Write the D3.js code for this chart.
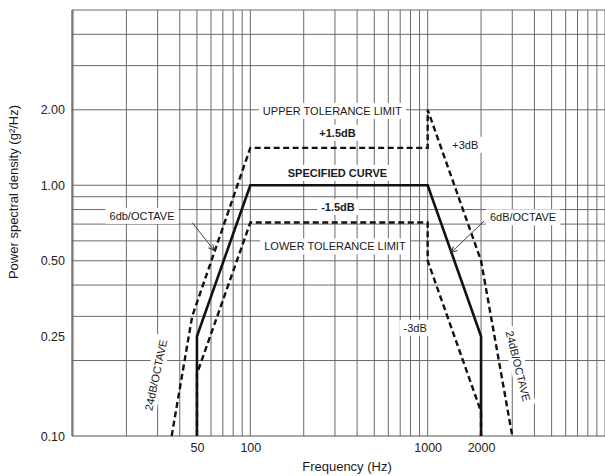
<!DOCTYPE html>
<html>
<head>
<meta charset="utf-8">
<script src="https://cdn.jsdelivr.net/npm/d3@7/dist/d3.min.js"></script>
<style>
  html, body { margin: 0; padding: 0; background: #fff; }
  svg { display: block; font-family: "Liberation Sans", Arial, Helvetica, sans-serif; }
</style>
</head>
<body>
<svg id="chart" width="605" height="476"></svg>
<script>
// ---- data ----
const specifiedFreq = [50, 50, 100, 1000, 2000, 2000];
const specifiedPSD  = [0.1, 0.25, 1.0, 1.0, 0.25, 0.1];
const upperFreq = [36, 47, 100, 1000, 1000, 2000, 3000];
const upperPSD  = [0.1, 0.30, 1.41, 1.41, 2.0, 0.5, 0.1];
const lowerFreq = [50, 50, 100, 1000, 1000, 2000, 2000];
const lowerPSD  = [0.1, 0.177, 0.71, 0.71, 0.5, 0.125, 0.1];
const xTickValues = [50, 100, 1000, 2000];
const xTickLabels = ["50", "100", "1000", "2000"];
const yTickValues = [0.1, 0.25, 0.5, 1, 2];
const yTickLabels = ["0.10", "0.25", "0.50", "1.00", "2.00"];
const xGridValues = [10,20,30,40,50,60,70,80,90,100,200,300,400,500,600,700,800,900,1000,2000,3000,4000,5000,6000,7000,8000,9000,10000];
const yGridValues = [0.2,0.3,0.4,0.5,0.6,0.7,0.8,0.9,1,2,3,4];
const annotationText = ["UPPER TOLERANCE LIMIT", "+1.5dB", "SPECIFIED CURVE", "-1.5dB", "LOWER TOLERANCE LIMIT", "+3dB", "-3dB", "6db/OCTAVE", "6dB/OCTAVE", "24dB/OCTAVE", "24dB/OCTAVE"];
const annotationFreq = [290, 310, 310, 312, 300, 1630, 850, 24.5, 3450, 29.3, 3240];
const annotationPSD  = [1.98, 1.62, 1.12, 0.82, 0.57, 1.45, 0.27, 0.755, 0.745, 0.175, 0.19];
const arrowFromFreq = [47, 2080];
const arrowFromPSD  = [0.71, 0.72];
const arrowToFreq   = [62.5, 1360];
const arrowToPSD    = [0.55, 0.54];

(function () {
// ---- layout ----
const svg = d3.select("#chart");
const pLeft = 72, pTop = 10, pBottom = 436, pRight = 605;
const x = d3.scaleLog().domain([10, 10000]).range([73, 605]);
const y = d3.scaleLog().domain([0.1, 5]).range([pBottom, pTop]);

const gridColor = "#6a6a6a";
const g = svg.append("g");

// grid
g.selectAll("line.vg").data(xGridValues).join("line")
  .attr("x1", d => x(d)).attr("x2", d => x(d))
  .attr("y1", pTop).attr("y2", pBottom)
  .attr("stroke", gridColor).attr("stroke-width", 1);
g.selectAll("line.hg").data(yGridValues).join("line")
  .attr("x1", pLeft).attr("x2", pRight)
  .attr("y1", d => y(d)).attr("y2", d => y(d))
  .attr("stroke", gridColor).attr("stroke-width", 1);
g.append("line").attr("x1", pLeft).attr("x2", pRight).attr("y1", pTop).attr("y2", pTop)
  .attr("stroke", gridColor).attr("stroke-width", 1);

// annotation white boxes + text
const boldSet = ["+1.5dB", "SPECIFIED CURVE", "-1.5dB"];
const rotations = [0,0,0,0,0,0,0,0,0,-78,76];
const annLayer = svg.append("g");
annotationText.forEach((t, i) => {
  const gg = annLayer.append("g")
    .attr("transform", `translate(${x(annotationFreq[i])},${y(annotationPSD[i])}) rotate(${rotations[i]})`);
  const rect = gg.append("rect").attr("fill", "#fff");
  const txt = gg.append("text")
    .attr("text-anchor", "middle")
    .attr("dominant-baseline", "central")
    .attr("font-size", 11)
    .attr("font-weight", boldSet.includes(t) ? "bold" : "normal")
    .attr("fill", "#1a1a1a")
    .text(t);
  const bb = txt.node().getBBox();
  rect.attr("x", bb.x - 4).attr("y", bb.y - 2).attr("width", bb.width + 8).attr("height", bb.height + 4);
});

// axes lines
svg.append("line").attr("x1", pLeft).attr("x2", pLeft).attr("y1", pTop).attr("y2", pBottom)
  .attr("stroke", "#555").attr("stroke-width", 1.2);
svg.append("line").attr("x1", pLeft).attr("x2", pRight).attr("y1", pBottom).attr("y2", pBottom)
  .attr("stroke", "#555").attr("stroke-width", 1.2);

// axes (labels only)
const yAxis = d3.axisLeft(y).tickValues(yTickValues).tickSize(0).tickPadding(7)
  .tickFormat((d, i) => yTickLabels[i]);
const ya = svg.append("g").attr("transform", `translate(${pLeft},0)`).call(yAxis);
ya.select(".domain").remove();
ya.selectAll("text").attr("font-size", 12.5).attr("fill", "#222")
  .attr("font-family", "Liberation Sans, Arial, sans-serif");

const xAxis = d3.axisBottom(x).tickValues(xTickValues).tickSize(0).tickPadding(7)
  .tickFormat((d, i) => xTickLabels[i]);
const xa = svg.append("g").attr("transform", `translate(0,${pBottom})`).call(xAxis);
xa.select(".domain").remove();
xa.selectAll("text").attr("font-size", 12.5).attr("fill", "#222")
  .attr("font-family", "Liberation Sans, Arial, sans-serif");

// axis titles
svg.append("text")
  .attr("transform", "translate(18,192) rotate(-90)")
  .attr("text-anchor", "middle")
  .attr("font-size", 13).attr("fill", "#1a1a1a")
  .text("Power spectral density (g²/Hz)");
svg.append("text")
  .attr("x", 347).attr("y", 471)
  .attr("text-anchor", "middle")
  .attr("font-size", 13).attr("fill", "#1a1a1a")
  .text("Frequency (Hz)");

// curves
const line = d3.line().x(d => x(d[0])).y(d => y(d[1]));
const zip = (a, b) => a.map((v, i) => [v, b[i]]);
svg.append("path").datum(zip(upperFreq, upperPSD)).attr("d", line)
  .attr("fill", "none").attr("stroke", "#111").attr("stroke-width", 2.4)
  .attr("stroke-dasharray", "6,3.5");
svg.append("path").datum(zip(lowerFreq, lowerPSD)).attr("d", line)
  .attr("fill", "none").attr("stroke", "#111").attr("stroke-width", 2.4)
  .attr("stroke-dasharray", "6,3.5");
svg.append("path").datum(zip(specifiedFreq, specifiedPSD)).attr("d", line)
  .attr("fill", "none").attr("stroke", "#111").attr("stroke-width", 2.6);

// leader arrows
svg.append("defs").append("marker")
  .attr("id", "arr").attr("viewBox", "0 0 10 10").attr("refX", 9).attr("refY", 5)
  .attr("markerWidth", 7).attr("markerHeight", 7).attr("orient", "auto")
  .append("path").attr("d", "M1,1 L9,5 L1,9").attr("fill", "none").attr("stroke", "#333").attr("stroke-width", 1.4);
arrowFromFreq.forEach((f, i) => {
  svg.append("line")
    .attr("x1", x(f)).attr("y1", y(arrowFromPSD[i]))
    .attr("x2", x(arrowToFreq[i])).attr("y2", y(arrowToPSD[i]))
    .attr("stroke", "#444").attr("stroke-width", 1)
    .attr("marker-end", "url(#arr)");
});
})();
</script>
</body>
</html>
